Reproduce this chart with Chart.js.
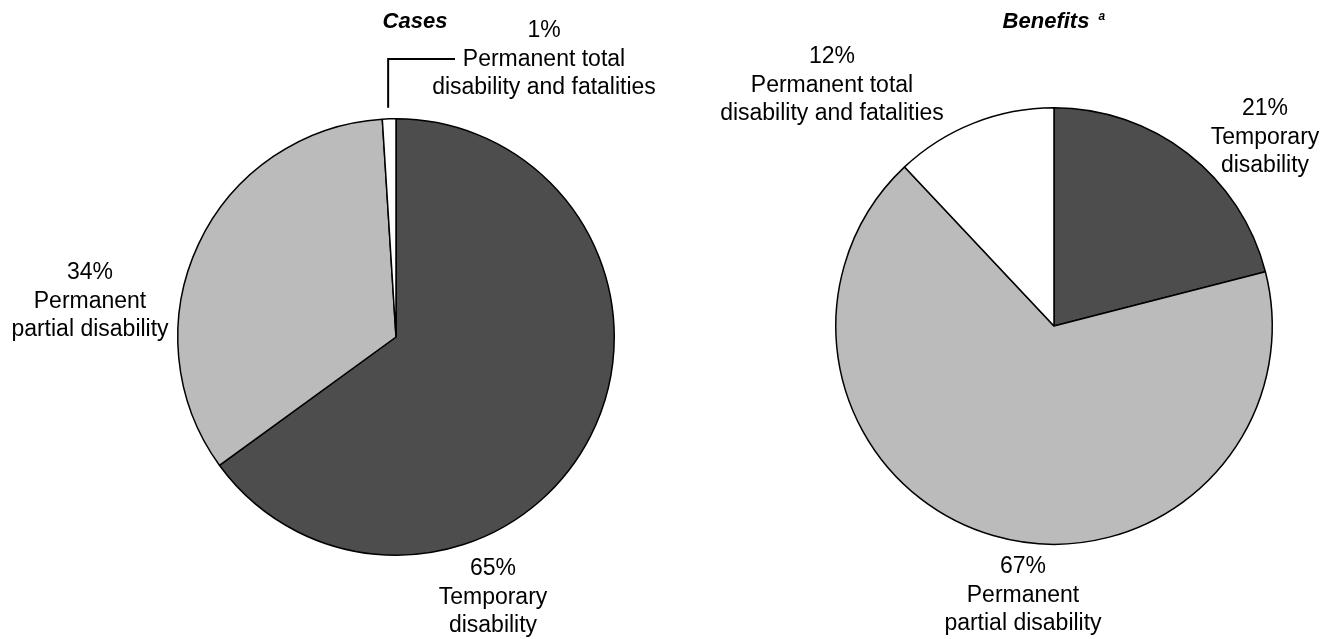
<!DOCTYPE html>
<html>
<head>
<meta charset="utf-8">
<script src="https://cdn.jsdelivr.net/npm/chart.js@4"></script>
<style>
    body { margin: 0; background: #fff; }
    #wrap { position: relative; width: 1323px; height: 639px; }
    canvas { position: absolute; top: 0; }
</style>
</head>
<body>
<div id="wrap">
    <canvas id="cases" width="661" height="639" style="left:0"></canvas>
    <canvas id="benefits" width="662" height="639" style="left:661px"></canvas>
</div>
<script>
// data
let categories = [
    "Temporary disability",
    "Permanent partial disability",
    "Permanent total disability and fatalities"
];
let labelLines = [
    ["Temporary", "disability"],
    ["Permanent", "partial disability"],
    ["Permanent total", "disability and fatalities"]
];
let casesValues = [65, 34, 1];
let benefitsValues = [21, 67, 12];

let colors = ["#4d4d4d", "#bbbbbb", "#ffffff"];
let font = "'Liberation Sans', Arial, Helvetica, sans-serif";

/**
 * Draws title and slice labels on a pie chart
 */
function labelPlugin(title, sup, titleX, anchors, leader) {
    return {
        id: "pieLabels",
        afterDraw(chart) {
            let ctx = chart.ctx;
            let values = chart.data.datasets[0].data;
            ctx.save();
            ctx.fillStyle = "#000";
            ctx.textBaseline = "middle";
            ctx.textAlign = "center";
            ctx.font = "italic bold 22px " + font;
            ctx.fillText(title, titleX, 22);
            if (sup) {
                let w = ctx.measureText(title).width;
                ctx.textAlign = "left";
                ctx.font = "italic bold 12px " + font;
                ctx.fillText(sup, titleX + w / 2 + 9, 17);
            }
            ctx.textAlign = "center";
            ctx.font = "23px " + font;
            for (let i = 0; i < values.length; i++) {
                let a = anchors[i];
                let lines = [values[i] + "%"].concat(labelLines[i]);
                lines.forEach((line, j) => {
                    ctx.fillText(line, a[0], a[1] + j * 28.5);
                });
            }
            if (leader) {
                let arc = chart.getDatasetMeta(0).data[leader.index];
                let mid = (arc.startAngle + arc.endAngle) / 2;
                let x = arc.x + Math.cos(mid) * arc.outerRadius - 1;
                let yTop = arc.y + Math.sin(mid) * arc.outerRadius - 11;
                ctx.strokeStyle = "#000";
                ctx.lineWidth = 2;
                ctx.beginPath();
                ctx.moveTo(x, yTop);
                ctx.lineTo(x, leader.y);
                ctx.lineTo(leader.x, leader.y);
                ctx.stroke();
            }
            ctx.restore();
        }
    };
}

function makePie(id, values, padding, plugin) {
    let ctx = document.getElementById(id).getContext("2d");
    return new Chart(ctx, {
        type: "pie",
        data: {
            labels: categories,
            datasets: [
                {
                    data: values,
                    backgroundColor: colors,
                    borderColor: "#000",
                    borderWidth: 1.5
                }
            ]
        },
        options: {
            responsive: false,
            animation: false,
            layout: { padding: padding },
            plugins: {
                legend: { display: false },
                tooltip: { enabled: false }
            }
        },
        plugins: [plugin]
    });
}

makePie(
    "cases",
    casesValues,
    { left: 177, right: 46, top: 118, bottom: 83 },
    labelPlugin("Cases", null, 415,
        [[493, 569], [90, 273], [544, 31]],
        { index: 2, x: 455, y: 59 })
);

makePie(
    "benefits",
    benefitsValues,
    { left: 174, right: 50, top: 107, bottom: 94 },
    labelPlugin("Benefits", "a", 385,
        [[604, 109], [362, 567], [171, 57]],
        null)
);
</script>
</body>
</html>
